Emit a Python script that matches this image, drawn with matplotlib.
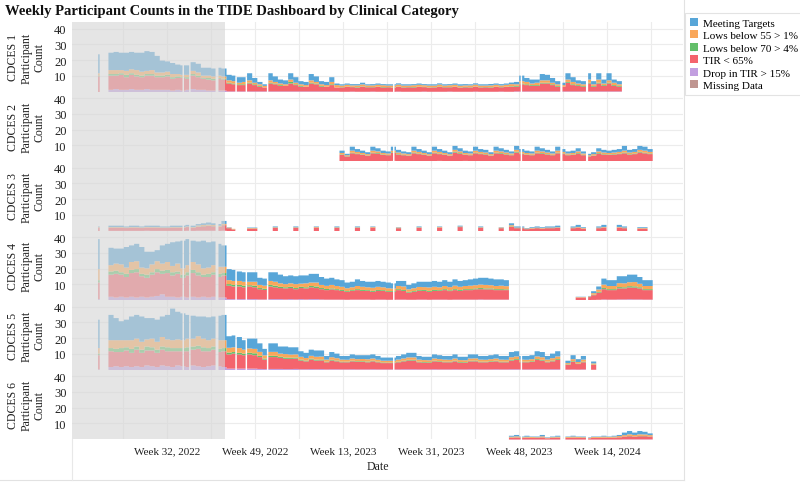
import numpy as np
import pandas as pd
import matplotlib
matplotlib.use("Agg")
import matplotlib.pyplot as plt
from matplotlib.patches import Patch
from matplotlib.lines import Line2D

plt.rcParams['font.family'] = ['Liberation Serif', 'DejaVu Serif']

TITLE = "Weekly Participant Counts in the TIDE Dashboard by Clinical Category"
CATEGORIES = ["Meeting Targets", "Lows below 55 > 1%", "Lows below 70 > 4%",
              "TIR < 65%", "Drop in TIR > 15%", "Missing Data"]
COLORS = ["#58a6d8", "#f9a75a", "#63bf6a", "#f4646d", "#c29fe0", "#bf9590"]
PANELS = ["CDCES 1", "CDCES 2", "CDCES 3", "CDCES 4", "CDCES 5", "CDCES 6"]
TICK_DATES = ["2022-08-10", "2022-12-08", "2023-04-07", "2023-08-05", "2023-12-03", "2024-04-01"]
TICK_LABELS = ["Week 32, 2022", "Week 49, 2022", "Week 13, 2023",
               "Week 31, 2023", "Week 48, 2023", "Week 14, 2024"]
X_START, X_END = "2022-04-02", "2024-07-13"
SHADE_END = "2022-10-28"
SPIKE_DAY = "2022-05-07"
DATA_START = "2022-05-21"
N_WEEKS = 106
GAP_DAYS = ["2022-08-30", "2022-08-31", "2022-09-08", "2022-09-09",
            "2022-10-14", "2022-10-15", "2022-10-16", "2022-10-17",
            "2022-11-10", "2022-11-11", "2022-11-24", "2022-11-25",
            "2022-12-23", "2022-12-24", "2023-06-13", "2023-06-14",
            "2023-12-04", "2023-12-05", "2024-01-27", "2024-01-28", "2024-01-29",
            "2024-03-02", "2024-03-03", "2024-03-04"]

# ---------------- CDCES 1 (weekly, from 2022-05-21) ----------------
c1_start = "2022-05-21"
c1_spike = [0, 10, 0.5, 1.5, 12]          # drop, tir, low70, low55, meet
c1_drop = [1.5, 2, 1.5, 1.5, 2, 1.5, 1.5, 2, 1.5, 1.5,
           1.5, 1.5, 1, 1.5, 1, 1.5, 2, 1.5, 1.5, 1, 1, 1, 1,
           0.5, 0.5, 0.5, 0.5, 0.5, 0.5, 0.5, 0.5, 0.5, 0.5,
           0.5, 0.5, 0.5, 0.5, 0.5, 0.5, 0.5, 0.5, 0.5, 0.5, 0.5, 0.5,
           0.3, 0.3, 0.4, 0.3, 0.3, 0.3, 0.4, 0.3, 0.3, 0.3,
           0.3, 0.4, 0.3, 0.3, 0.3, 0.3, 0.4, 0.3, 0.3, 0.3,
           0.3, 0.4, 0.3, 0.3, 0.3, 0.3, 0.4, 0.3, 0.3, 0.3,
           0.3, 0.4, 0.3, 0.3,
           0.5, 0.5, 0.5, 0.5, 0.5, 0.5, 0.5, 0.5, 0.5, 0.5,
           0.5, 0.5, 0.5, 0.5, 0.5, 0.5, 0.5, 0.5, 0.5, 0.5, 0.5]
c1_tir = [9, 8.5, 9.5, 8, 9, 8.5, 8, 8.5, 9, 8,
          8, 8.5, 7.5, 7.5, 8, 7, 8.5, 8, 7, 7, 6.5, 7.5, 7,
          5, 4.5, 4, 4, 5, 4, 3, 2.5, 5, 4.5,
          3.5, 3.5, 5, 4, 3, 3, 5, 4.5, 3, 3, 4, 2.5,
          2.7, 3, 2.8, 2.6, 3.2, 2.8, 2.7, 3, 2.7, 2.8,
          2.6, 3, 2.7, 2.8, 2.7, 3, 2.8, 2.6, 2.7, 3,
          2.8, 2.7, 3, 2.6, 2.8, 2.7, 3, 2.7, 2.8, 2.6,
          3, 2.7, 3, 3.2,
          3, 4.5, 4, 3.5, 3.5, 5, 5, 4, 3, 3,
          5.5, 4, 3.5, 3, 5, 3, 5, 3.5, 5, 3.5, 3]
c1_low70 = [1, 1, 1, 1.5, 1, 1, 1, 1, 1, 1,
            1, 1, 1, 1, 0.5, 1, 1, 1, 0.5, 1, 1, 0.5, 0.5,
            0.5, 0.5, 0.5, 0.5, 0.5, 0.5, 0.5, 0, 0.5, 0.5,
            0.5, 0, 1, 0.5, 0.5, 0, 0.5, 0.5, 0.5, 0, 0.5, 0,
            0.2, 0.2, 0.2, 0.3, 0.2, 0.2, 0.2, 0.2, 0.3, 0.2,
            0.2, 0.2, 0.2, 0.2, 0.3, 0.2, 0.2, 0.2, 0.2, 0.3,
            0.2, 0.2, 0.2, 0.2, 0.3, 0.2, 0.2, 0.2, 0.2, 0.3,
            0.2, 0.2, 0.2, 0.3,
            0.5, 0.5, 0.5, 0.5, 0.5, 0.5, 0.5, 0.5, 0.5, 0,
            0.5, 0.5, 0.5, 0.5, 0.5, 0.5, 0.5, 0.5, 0.5, 0.5, 0.5]
c1_low55 = [2.5, 2.5, 2, 2.5, 2.5, 3, 2.5, 2, 2.5, 2,
            2, 2, 2, 1.5, 1.5, 1.5, 2, 2, 1.5, 1.5, 1.5, 1.5, 1.5,
            1.5, 1.5, 1, 1.5, 1.5, 1, 1, 1, 1.5, 1,
            1, 1, 1.5, 1, 1, 1, 1.5, 1, 1, 1, 1.5, 1.5,
            1, 1.2, 0.9, 1.1, 1.2, 1, 1, 1.2, 1.1, 0.9,
            1.1, 1.2, 1, 0.9, 1.1, 1.2, 1, 1.1, 1, 1.2,
            0.9, 1.1, 1.2, 1, 0.9, 1.1, 1.2, 1, 0.9, 1.1,
            1.2, 1, 1.2, 1.3,
            1, 1.5, 1.5, 1, 1.5, 1.5, 1.5, 1, 1, 1,
            1.5, 1.5, 1, 1, 2, 1, 2, 1, 1.5, 1.5, 1]
c1_meet = [11, 11.5, 11, 11.5, 11, 11, 12, 12.5, 11.5, 10.5,
           7.5, 6.5, 7, 6, 6, 6, 5.5, 5.5, 5, 5, 5, 5, 5,
           3.5, 3.5, 3.5, 3, 4.5, 3, 1.5, 1, 4.5, 3.5,
           2.5, 2.5, 4, 3.5, 2, 2, 4, 3.5, 2, 2, 3, 1,
           0.8, 0.8, 0.8, 0.8, 1.1, 0.7, 0.8, 0.8, 0.7, 0.8,
           0.8, 0.8, 0.8, 0.8, 0.7, 0.8, 0.7, 0.8, 0.8, 0.8,
           0.8, 0.7, 0.8, 0.9, 0.8, 0.7, 0.8, 0.8, 0.8, 0.9,
           0.8, 0.8, 0.8, 1.0,
           1.5, 3.5, 2.5, 2.5, 2, 4, 3.5, 3, 2, 1.5,
           4, 3, 2, 2, 4, 2, 4, 2.5, 4.5, 2, 2]

# ---------------- CDCES 2 (weekly, from 2023-04-01) ----------------
c2_start = "2023-04-01"
c2_spike = [0, 0, 0, 0, 0]
c2_drop = [0.3, 0.3, 0.3, 0.3, 0.3, 0.3, 0.3, 0.3, 0.3, 0.3,
           0.5, 0.3, 0.3, 0.3, 0.3, 0.3, 0.3, 0.3, 0.3, 0.5,
           0.3, 0.3, 0.3, 0.3, 0.5, 0.3, 0.3, 0.3, 0.3, 0.3,
           0.3, 0.3, 0.3, 0.3, 0.3, 0.3, 0.3, 0.3, 0.3, 0.3,
           0.3, 0.3, 0.3, 0.3, 0.3, 0.3, 0.3, 0.3, 0.3, 0.3,
           0.3, 0.3, 0.3, 0.3, 0.3, 0.3, 0.3, 0.3, 0.3, 0.3, 0.3]
c2_tir = [4, 3, 5, 4.5, 4, 3.5, 5, 4.8, 4, 3.8,
          5, 4.2, 3.8, 3.5, 5, 4.5, 4, 3.5, 5, 4.3,
          4, 3.5, 5.5, 4.8, 3.8, 3.8, 5, 4.5, 4.2, 3.5,
          5, 4.8, 4.2, 3.8, 5.5, 4.5, 4, 3.8, 5, 4.8,
          4.2, 3.8, 5, 4.5, 3.8, 4, 4.8, 3.8, 3, 3.5,
          4.8, 4.2, 4, 4.2, 4.5, 5, 4.2, 4.5, 5.5, 5, 4.5]
c2_low70 = [0.3, 0.2, 0.4, 0.4, 0.3, 0.2, 0.4, 0.4, 0.3, 0.3,
            0.4, 0.3, 0.3, 0.2, 0.5, 0.4, 0.3, 0.2, 0.4, 0.4,
            0.3, 0.2, 0.5, 0.4, 0.3, 0.3, 0.4, 0.4, 0.3, 0.2,
            0.4, 0.4, 0.3, 0.3, 0.5, 0.4, 0.3, 0.3, 0.4, 0.4,
            0.3, 0.3, 0.4, 0.4, 0.3, 0.3, 0.4, 0.3, 0.2, 0.2,
            0.4, 0.3, 0.3, 0.3, 0.4, 0.5, 0.3, 0.4, 0.5, 0.4, 0.4]
c2_low55 = [0.9, 0.6, 1.3, 1, 0.9, 0.8, 1.3, 1, 0.9, 0.8,
            1.1, 1, 0.8, 0.8, 1.2, 1, 0.9, 0.8, 1.3, 1,
            0.9, 0.8, 1.2, 1, 0.9, 0.8, 1.3, 1, 1, 0.8,
            1.3, 1, 1, 0.8, 1.2, 1, 0.9, 0.8, 1.3, 1,
            1, 0.8, 1.3, 1, 0.8, 0.9, 1, 0.8, 0.6, 0.8,
            1, 1, 0.9, 1, 1, 1.2, 1, 1, 1.2, 1.3, 1]
c2_meet = [1.5, 0.9, 2.5, 1.8, 1.5, 1.2, 2.5, 2, 1.5, 1.3,
           2.5, 1.7, 1.3, 1.2, 2.5, 1.8, 1.5, 1.2, 2.5, 1.8,
           1.5, 1.2, 2.5, 2, 1.5, 1.3, 2.5, 1.8, 1.7, 1.2,
           2.5, 2, 1.7, 1.3, 2.5, 1.8, 1.5, 1.3, 2.5, 2,
           1.7, 1.3, 2.5, 1.8, 1.3, 1.5, 2, 1.3, 0.9, 1.2,
           2, 1.7, 1.5, 1.7, 1.8, 3, 1.7, 1.8, 2.5, 2.5, 1.8]

# ---------------- CDCES 3 (weekly, from 2022-05-21) ----------------
c3_start = "2022-05-21"
c3_spike = [0, 2, 0, 0.5, 0.5]
c3_drop = [0.2, 0.2, 0.2, 0.2, 0.2, 0.2, 0.2, 0.3, 0.2, 0.2,
           0.2, 0.2, 0.2, 0.2, 0.2, 0.3, 0.2, 0.3, 0.3, 0.3, 0.3, 0.2, 0.3,
           0.1, 0.1, 0, 0, 0.1, 0.1, 0, 0, 0, 0.1,
           0, 0, 0, 0.1, 0, 0, 0, 0.1, 0, 0,
           0, 0.1, 0, 0, 0, 0.1, 0, 0, 0.1, 0,
           0, 0, 0, 0.1, 0, 0, 0, 0.1, 0, 0,
           0, 0.1, 0, 0, 0, 0.1, 0, 0, 0, 0.1,
           0, 0, 0, 0.1, 0, 0.2, 0.1, 0.1, 0.1, 0.1,
           0.1, 0.1, 0.1, 0.1, 0.1, 0, 0, 0.1, 0.1, 0.1,
           0, 0, 0.1, 0.1, 0, 0, 0.1, 0.1, 0, 0,
           0.1, 0.1, 0]
c3_tir = [2, 2, 2, 1.8, 2, 2, 1.8, 2, 2, 2,
          1.8, 1.8, 2, 2, 2, 2.3, 2, 2.5, 2.8, 3, 2.8, 2.5, 3.5,
          1.8, 1, 0, 0, 1.5, 1.5, 0, 0, 0, 2,
          0, 0, 0, 2, 0, 0, 0, 2.2, 0, 0,
          0, 2, 0, 0, 0, 2, 0, 0, 2.2, 0,
          0, 0, 0, 1.8, 0, 0, 0, 2, 0, 0,
          0, 2.2, 0, 0, 0, 2.5, 0, 0, 0, 2,
          0, 0, 0, 1.8, 0, 2.5, 1.8, 1.8, 1.2, 1.5,
          1.8, 1.5, 1.8, 1.8, 2, 0, 0, 1.8, 2.2, 1.5,
          0, 0, 1.8, 2.2, 0, 0, 2.2, 1.8, 0, 0,
          1.5, 1.5, 0]
c3_low70 = [0.1, 0.1, 0.1, 0.1, 0.1, 0.1, 0.1, 0.1, 0.1, 0.1,
            0.1, 0.1, 0.1, 0.1, 0.1, 0.1, 0.1, 0.2, 0.2, 0.2, 0.2, 0.2, 0.2,
            0.1, 0.1, 0, 0, 0.1, 0.1, 0, 0, 0, 0.1,
            0, 0, 0, 0.1, 0, 0, 0, 0.1, 0, 0,
            0, 0.1, 0, 0, 0, 0.1, 0, 0, 0.1, 0,
            0, 0, 0, 0.1, 0, 0, 0, 0.1, 0, 0,
            0, 0.1, 0, 0, 0, 0.1, 0, 0, 0, 0.1,
            0, 0, 0, 0.1, 0, 0.3, 0.1, 0.1, 0.1, 0.1,
            0.1, 0.1, 0.1, 0.1, 0.1, 0, 0, 0.1, 0.1, 0.1,
            0, 0, 0.1, 0.1, 0, 0, 0.1, 0.1, 0, 0,
            0.1, 0.1, 0]
c3_low55 = [0.3, 0.3, 0.3, 0.3, 0.3, 0.3, 0.3, 0.3, 0.3, 0.3,
            0.3, 0.3, 0.3, 0.3, 0.3, 0.3, 0.3, 0.6, 0.6, 0.6, 0.6, 0.6, 0.6,
            0.3, 0.3, 0, 0, 0.3, 0.3, 0, 0, 0, 0.3,
            0, 0, 0, 0.3, 0, 0, 0, 0.3, 0, 0,
            0, 0.3, 0, 0, 0, 0.3, 0, 0, 0.3, 0,
            0, 0, 0, 0.3, 0, 0, 0, 0.3, 0, 0,
            0, 0.3, 0, 0, 0, 0.3, 0, 0, 0, 0.3,
            0, 0, 0, 0.3, 0, 0.8, 0.3, 0.3, 0.3, 0.3,
            0.3, 0.3, 0.3, 0.3, 0.3, 0, 0, 0.3, 0.3, 0.3,
            0, 0, 0.3, 0.3, 0, 0, 0.3, 0.3, 0, 0,
            0.3, 0.3, 0]
c3_meet = [0.9, 0.9, 0.9, 0.6, 0.9, 0.9, 0.6, 0.8, 0.9, 0.9,
           0.6, 0.6, 0.9, 0.9, 0.9, 1.0, 0.9, 0.9, 1.1, 1.4, 1.1, 1.0, 1.9,
           0.2, 0, 0, 0, 0.3, 0.3, 0, 0, 0, 0.5,
           0, 0, 0, 0.5, 0, 0, 0, 0.3, 0, 0,
           0, 0.5, 0, 0, 0, 0.5, 0, 0, 0.3, 0,
           0, 0, 0, 0.2, 0, 0, 0, 0.5, 0, 0,
           0, 0.3, 0, 0, 0, 0.5, 0, 0, 0, 0.5,
           0, 0, 0, 0.2, 0, 1.2, 0.7, 0.7, 0.3, 0.5,
           0.7, 0.5, 0.7, 0.7, 1, 0, 0, 0.7, 1.3, 0.5,
           0, 0, 0.7, 1.3, 0, 0, 1.3, 0.7, 0, 0,
           0.5, 0.5, 0]

# ---------------- CDCES 4 (weekly, from 2022-05-21) ----------------
c4_start = "2022-05-21"
c4_spike = [1, 10.5, 1.5, 7, 19]
c4_drop = [2.5, 2, 2.5, 2, 2.5, 2, 2.5, 2, 2.5, 3,
           4, 2.5, 2.5, 2, 2.5, 2, 2.5, 2, 2.5, 2, 2.5, 2, 2,
           1, 1, 1, 1, 1, 1, 0.8, 0.8, 1, 1,
           1, 0.8, 1, 0.8, 1, 0.8, 1, 1, 0.8, 0.7,
           0.7, 0.7, 0.7, 0.6, 0.7, 0.7, 0.7, 0.7, 0.6, 0.7,
           0.7, 0.6, 0.6, 0.7, 0.7, 0.6, 0.6, 0.7, 0.7, 0.6,
           0.7, 0.7, 0.7, 0.6, 0.7, 0.7, 0.7, 0.7, 0.7, 0.8,
           0.7, 0.7, 0.7, 0.7, 0.7,
           0, 0, 0, 0, 0, 0, 0, 0, 0, 0, 0, 0, 0,
           0.3, 0.3, 0.3, 0.5, 0.6, 0.8, 0.7, 0.7, 0.8, 0.8, 0.9, 0.8, 0.8, 0.7, 0.7]
c4_tir = [14, 15, 14, 13, 15, 16, 13, 12.5, 14, 15,
          13, 15, 13.5, 15, 12, 14, 15, 14, 12.5, 13, 14, 13, 14,
          8.5, 8, 8, 7.5, 8, 7.5, 6.5, 6, 8, 7.5,
          7, 7, 7, 6.5, 7, 7, 7.5, 7, 6.5, 6,
          6.5, 6, 5.5, 5, 5.5, 6, 5.5, 5.5, 5, 5.5,
          5.5, 5, 5, 6, 5.5, 4.5, 5, 5.5, 5.5, 5,
          5.5, 5.5, 6, 5.5, 6, 5.5, 6, 6, 6.5, 6.5,
          6.5, 6.5, 6, 6, 6,
          0, 0, 0, 0, 0, 0, 0, 0, 0, 0, 0, 0, 0,
          1.7, 1.7, 2, 3, 4.5, 6.5, 6, 6, 7, 7, 7.5, 7.5, 7, 6, 6]
c4_low70 = [2, 2, 1.5, 2, 2, 2, 1.5, 2, 1.5, 2,
            2, 2, 2, 1.5, 2, 2, 2, 2, 1.5, 2, 1.5, 2, 1.5,
            1, 1, 1, 1, 0.8, 1, 0.7, 0.7, 1, 1,
            0.8, 0.7, 0.8, 0.7, 0.8, 0.7, 0.8, 1, 0.7, 0.7,
            0.6, 0.6, 0.6, 0.5, 0.5, 0.6, 0.6, 0.5, 0.6, 0.6,
            0.5, 0.5, 0.5, 0.6, 0.6, 0.5, 0.5, 0.5, 0.6, 0.6,
            0.6, 0.5, 0.6, 0.5, 0.6, 0.6, 0.6, 0.6, 0.6, 0.7,
            0.6, 0.6, 0.6, 0.6, 0.5,
            0, 0, 0, 0, 0, 0, 0, 0, 0, 0, 0, 0, 0,
            0, 0, 0.2, 0.3, 0.5, 0.7, 0.6, 0.6, 0.8, 0.7, 0.8, 0.8, 0.7, 0.6, 0.6]
c4_low55 = [4, 4.5, 5, 4, 5, 5, 4, 4, 5, 5,
            4.5, 5, 4, 5, 4, 4.5, 5, 5, 4, 4, 4.5, 4.5, 4,
            2.5, 2.5, 2.5, 2.5, 2.2, 2.5, 2, 2, 2.5, 2.5,
            2.2, 2, 2.2, 2.5, 2, 2.5, 2.2, 2.5, 2, 2,
            2.2, 2, 2, 1.8, 1.8, 2, 2, 1.8, 2, 2,
            1.8, 1.8, 1.6, 2, 2.2, 1.6, 1.8, 2, 1.8, 2.2,
            2, 1.8, 2, 2, 2.2, 2, 2, 2.2, 2, 2.2,
            2.2, 2, 2, 2.2, 2,
            0, 0, 0, 0, 0, 0, 0, 0, 0, 0, 0, 0, 0,
            0.3, 0.3, 0.3, 1, 1.5, 2.2, 2, 2, 2.5, 2.5, 2.5, 2.7, 2.2, 2, 2]
c4_meet = [11, 9.5, 10, 13, 10.5, 11, 13, 10.5, 8, 7,
           11.5, 11.5, 15, 14, 17.5, 16.5, 13.5, 14.5, 17.5, 16, 15, 14.5, 13.5,
           7, 7, 6, 6, 6, 6, 4.5, 4.5, 5.5, 6,
           5.5, 5, 5, 5, 5.2, 5, 5.5, 5.5, 5, 4.6,
           4.5, 4.2, 4.2, 3.6, 3.5, 4.2, 3.7, 3.5, 3.8, 3.7,
           3.5, 3.6, 3.3, 3.2, 3.5, 2.8, 3.1, 3.3, 3.4, 3.6,
           3.7, 3.5, 3.7, 3.4, 4, 3.7, 3.7, 4, 4.2, 4.3,
           4.5, 4.2, 4.2, 4, 3.8,
           0, 0, 0, 0, 0, 0, 0, 0, 0, 0, 0, 0, 0,
           0.2, 0.2, 0.2, 1.2, 1.9, 3.8, 3.7, 3.7, 4.4, 4.5, 4.8, 4.7, 4.3, 3.7, 3.7]

# ---------------- CDCES 5 (weekly, from 2022-05-21) ----------------
c5_start = "2022-05-21"
c5_spike = [0.5, 9, 1, 3.5, 18]
c5_drop = [2, 2.5, 2, 2.5, 2, 2.5, 2, 3, 2.5, 2,
           3, 2.5, 2, 3, 2.5, 2, 3, 2.5, 2, 2.5, 3, 2.5, 2,
           1, 1, 1, 1, 1, 1, 0.8, 0.7, 0.8, 0.8,
           0.8, 0.7, 0.7, 0.8, 0.6, 0.6, 0.7, 0.6, 0.7, 0.5,
           0.6, 0.6, 0.5, 0.5, 0.6, 0.5, 0.5, 0.5, 0.6, 0.5,
           0.5, 0.5, 0.5, 0.5, 0.6, 0.6, 0.6, 0.5, 0.5, 0.5,
           0.6, 0.5, 0.5, 0.5, 0.6, 0.5, 0.5, 0.6, 0.6, 0.5,
           0.5, 0.5, 0.6, 0.5, 0.5, 0.6, 0.6, 0.5, 0.5, 0.5,
           0.6, 0.6, 0.5, 0.6, 0.6, 0, 0.4, 0.5, 0.4, 0.5,
           0, 0.3]
c5_tir = [10, 9, 9.5, 10, 9, 10.5, 9, 9.5, 10, 9,
          10, 9.5, 10, 9, 9.5, 10, 10, 11, 10, 9.5, 10, 9, 10,
          9, 9.5, 9, 8.5, 9, 8.5, 7.5, 6, 7.5, 7.5,
          7, 6.5, 6.5, 6.5, 5.5, 5, 6, 5.5, 5.5, 4.5,
          5.5, 5, 4.5, 4.5, 5, 4.8, 4.8, 4.5, 5, 4.5,
          4, 4, 4, 4.5, 5, 5.5, 5.5, 4.5, 4.3, 4.2,
          5, 4.8, 4.5, 4.5, 5, 4.3, 4.2, 5, 5, 4.5,
          4.5, 4.8, 5, 4.5, 4.5, 5.5, 6, 4.5, 4.5, 4.8,
          6, 5.5, 4.5, 5, 6, 0, 3, 4.8, 3.5, 4.5,
          0, 3]
c5_low70 = [2, 2, 2.5, 2, 2.5, 2, 2, 2.5, 2, 2,
            2, 2.5, 2, 2, 2, 2.5, 2, 2, 2.5, 2, 2, 2, 2,
            1.2, 1, 1, 1, 1, 1.2, 0.8, 0.7, 0.8, 0.8,
            0.7, 0.8, 0.7, 0.7, 0.6, 0.5, 0.6, 0.6, 0.6, 0.4,
            0.5, 0.5, 0.4, 0.4, 0.4, 0.4, 0.4, 0.5, 0.4, 0.4,
            0.4, 0.3, 0.4, 0.4, 0.4, 0.5, 0.5, 0.4, 0.4, 0.4,
            0.4, 0.4, 0.4, 0.4, 0.4, 0.4, 0.4, 0.4, 0.5, 0.4,
            0.4, 0.4, 0.4, 0.4, 0.4, 0.5, 0.5, 0.4, 0.4, 0.4,
            0.5, 0.5, 0.4, 0.5, 0.5, 0, 0.3, 0.4, 0.3, 0.4,
            0, 0.2]
c5_low55 = [5, 5.5, 5, 4.5, 5.5, 5, 5, 4.5, 5.5, 5,
            6, 5, 5, 5.5, 5, 5.5, 5, 6, 5.5, 5, 5, 5.5, 5,
            3, 3, 3, 2.5, 2.8, 2.8, 2.5, 2, 2.5, 2.5,
            2, 2.2, 2, 2, 1.8, 1.6, 1.8, 1.8, 1.8, 1.3,
            1.6, 1.5, 1.3, 1.2, 1.4, 1.3, 1.4, 1.4, 1.4, 1.2,
            1.1, 1.2, 1.1, 1.3, 1.4, 1.5, 1.5, 1.3, 1.2, 1.2,
            1.4, 1.3, 1.3, 1.2, 1.4, 1.2, 1.2, 1.4, 1.4, 1.3,
            1.2, 1.3, 1.4, 1.3, 1.2, 1.6, 1.6, 1.3, 1.2, 1.3,
            1.6, 1.6, 1.3, 1.5, 1.6, 0, 0.8, 1.3, 1, 1.3,
            0, 0.8]
c5_meet = [16, 14, 12, 13, 15, 15, 16, 13.5, 13, 14,
           13, 15.5, 20, 17.5, 17, 15, 14.5, 12.5, 14, 14.5, 14, 15.5, 16,
           7.3, 7.5, 7, 6, 6.2, 6.5, 5.4, 4.1, 5.4, 5.4,
           4.5, 4.8, 4.6, 4.5, 3.5, 3.3, 3.9, 4, 3.9, 2.3,
           3.3, 2.9, 2.3, 2.4, 2.6, 2.5, 2.4, 2.6, 2.6, 2.4,
           2, 2, 2, 2.3, 2.6, 2.9, 2.9, 2.3, 2.1, 2.2,
           2.6, 2.5, 2.3, 2.4, 2.6, 2.1, 2.2, 2.6, 2.5, 2.3,
           2.4, 2.5, 2.6, 2.3, 2.4, 3.3, 3.3, 2.3, 2.4, 2.5,
           3.3, 3.3, 2.3, 2.9, 3.3, 0, 1.5, 2.5, 1.8, 2.3,
           0, 1.2]

# ---------------- CDCES 6 (weekly, from 2023-11-18) ----------------
c6_start = "2023-11-18"
c6_spike = [0, 0, 0, 0, 0]
c6_drop = [0.1, 0.1, 0.1, 0.1, 0.1, 0.1, 0.1, 0.1, 0.1, 0.1,
           0, 0.1, 0.1, 0.1, 0.1, 0.1, 0.1, 0.1, 0.1, 0.1,
           0.1, 0.1, 0.2, 0.2, 0.2, 0.2, 0.2, 0.2]
c6_tir = [1.2, 1.3, 1, 1.2, 1, 1, 1.3, 0.8, 1, 1.2,
          0, 1, 1.2, 1, 1, 0.8, 1, 1, 1.2, 1,
          1.2, 1.4, 1.8, 2, 1.8, 2, 2, 1.8]
c6_low70 = [0.1, 0.1, 0.1, 0.1, 0.1, 0.1, 0.1, 0, 0.1, 0.1,
            0, 0.1, 0.1, 0.1, 0.1, 0, 0.1, 0.1, 0.1, 0.1,
            0.1, 0.1, 0.1, 0.2, 0.1, 0.2, 0.2, 0.1]
c6_low55 = [0.5, 0.6, 0.4, 0.5, 0.5, 0.4, 0.6, 0.3, 0.4, 0.5,
            0, 0.5, 0.6, 0.5, 0.4, 0.3, 0.5, 0.5, 0.6, 0.5,
            0.6, 0.7, 0.8, 1, 0.9, 1, 0.9, 0.8]
c6_meet = [0.6, 0.9, 0.4, 0.6, 0.3, 0.4, 0.9, 0.3, 0.4, 0.6,
           0, 0.3, 0.5, 0.3, 0.4, 0.3, 0.3, 0.3, 0.5, 0.3,
           0.5, 0.7, 1.6, 2.1, 1.5, 2.1, 1.7, 1.1]

PANEL_DATA = [
    (c1_start, c1_spike, [c1_drop, c1_tir, c1_low70, c1_low55, c1_meet]),
    (c2_start, c2_spike, [c2_drop, c2_tir, c2_low70, c2_low55, c2_meet]),
    (c3_start, c3_spike, [c3_drop, c3_tir, c3_low70, c3_low55, c3_meet]),
    (c4_start, c4_spike, [c4_drop, c4_tir, c4_low70, c4_low55, c4_meet]),
    (c5_start, c5_spike, [c5_drop, c5_tir, c5_low70, c5_low55, c5_meet]),
    (c6_start, c6_spike, [c6_drop, c6_tir, c6_low70, c6_low55, c6_meet]),
]
# stacking order bottom -> top: Drop, TIR, Lows70, Lows55, Meeting
STACK_COLORS = [COLORS[4], COLORS[3], COLORS[2], COLORS[1], COLORS[0]]

# ---------------- daily grid ----------------
grid0 = pd.Timestamp(SPIKE_DAY)
n_days = (pd.Timestamp(DATA_START) - grid0).days + N_WEEKS * 7
days = pd.date_range(grid0, periods=n_days + 1, freq="D")
gap_idx = [(pd.Timestamp(g) - grid0).days for g in GAP_DAYS]


def to_daily(weekly, start, spike_val):
    arr = np.zeros(n_days + 1)
    off = (pd.Timestamp(start) - grid0).days
    vals = np.repeat(np.asarray(weekly, dtype=float), 7)
    end = min(off + len(vals), n_days)
    arr[off:end] = vals[:end - off]
    arr[0:2] = spike_val
    arr[gap_idx] = 0.0
    arr[-1] = 0.0
    return arr


# ---------------- figure / layout (pixel based) ----------------
W_PX, H_PX = 800, 485
fig = plt.figure(figsize=(W_PX / 100, H_PX / 100), dpi=100)
LEFT, RIGHT = 72, 683
TOP0, PANEL_H = 23.2, 69.5

xmin, xmax = pd.Timestamp(X_START), pd.Timestamp(X_END)
grid_dates = pd.date_range("2022-06-11", periods=13, freq="60D")
tick_dates = pd.to_datetime(TICK_DATES)
minor_dates = [d for d in grid_dates if d not in set(tick_dates)]

axes = []
for i, (start, spike, series) in enumerate(PANEL_DATA):
    top = TOP0 + PANEL_H * i
    ax = fig.add_axes([LEFT / W_PX, 1 - (top + PANEL_H) / H_PX,
                       (RIGHT - LEFT) / W_PX, PANEL_H / H_PX])
    axes.append(ax)
    base = np.zeros(n_days + 1)
    for vals, sv, col in zip(series, spike, STACK_COLORS):
        d = to_daily(vals, start, sv)
        upper = base + d
        ax.fill_between(days, base, upper, step="post", color=col, lw=0, zorder=2)
        base = upper
    ax.axvspan(xmin, pd.Timestamp(SHADE_END), color="#d6d6d6", alpha=0.62, lw=0, zorder=4)
    ax.set_xlim(xmin, xmax)
    ax.set_ylim(0, 44)
    ax.set_yticks([10, 20, 30, 40])
    ax.set_xticks(tick_dates)
    ax.set_xticks(minor_dates, minor=True)
    ax.grid(True, which="both", color="#ececec", lw=0.8, zorder=0)
    ax.set_axisbelow(True)
    for s in ax.spines.values():
        s.set_visible(False)
    ax.tick_params(axis="both", which="both", length=0)
    ax.tick_params(axis="y", labelsize=9, pad=4, labelcolor="#222222")
    if i < 5:
        ax.set_xticklabels([])
    else:
        ax.set_xticklabels(TICK_LABELS, fontsize=8, color="#222222")
        ax.tick_params(axis="x", pad=5)
    cy = 1 - (top + PANEL_H / 2) / H_PX
    fig.text(13.5 / W_PX, cy, PANELS[i], rotation=90, ha="center", va="center",
             fontsize=8.5, color="#222222")
    fig.text(33 / W_PX, cy, "Participant\nCount", rotation=90, ha="center", va="center",
             fontsize=8.5, color="#222222", multialignment="center", linespacing=1.05)

fig.text((LEFT + RIGHT) / 2 / W_PX, 1 - 467 / H_PX, "Date", ha="center", va="center",
         fontsize=8.5, color="#222222")
fig.text(5 / W_PX, 1 - 12 / H_PX, TITLE, ha="left", va="center", fontsize=10.5,
         fontweight="bold", color="#111111")

# pane borders
fig.add_artist(Line2D([683.5 / W_PX, 683.5 / W_PX], [1 - 481 / H_PX, 1], color="#e2e2e2", lw=0.8))
fig.add_artist(Line2D([0, 683.5 / W_PX], [1 - 481 / H_PX, 1 - 481 / H_PX], color="#e2e2e2", lw=0.8))
fig.add_artist(Line2D([LEFT / W_PX, LEFT / W_PX], [1 - 481 / H_PX, 1 - 440 / H_PX], color="#e8e8e8", lw=0.8))

handles = [Patch(facecolor=c, edgecolor="none") for c in COLORS]
leg = fig.legend(handles, CATEGORIES, loc="upper left",
                 bbox_to_anchor=(685 / W_PX, 1 - 14 / H_PX), frameon=True, fancybox=False,
                 fontsize=8, handlelength=0.7, handleheight=0.7, handletextpad=0.5,
                 labelspacing=0.24, borderpad=0.45, borderaxespad=0)
leg.get_frame().set_edgecolor("#dddddd")
leg.get_frame().set_linewidth(0.8)

fig.savefig("out.png", dpi=100)
